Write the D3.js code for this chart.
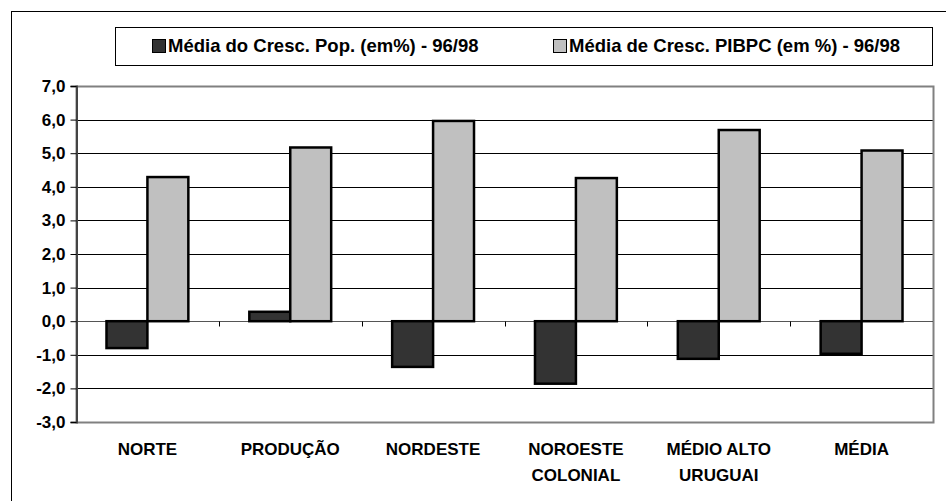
<!DOCTYPE html>
<html>
<head>
<meta charset="utf-8">
<script src="https://cdn.jsdelivr.net/npm/d3@7"></script>
<style>
  body { margin: 0; background: #fff; }
  svg { display: block; font-family: "Liberation Sans", Arial, sans-serif; font-weight: bold; }
</style>
</head>
<body>
<div id="chart"></div>
<script>
// data
const categories = [["NORTE"], ["PRODUÇÃO"], ["NORDESTE"], ["NOROESTE", "COLONIAL"], ["MÉDIO ALTO", "URUGUAI"], ["MÉDIA"]];
const seriesNames = ["Média do Cresc. Pop. (em%) - 96/98", "Média de Cresc. PIBPC (em %) - 96/98"];
const popValues = [-0.8, 0.28, -1.36, -1.86, -1.12, -0.97];
const pibValues = [4.29, 5.17, 5.96, 4.26, 5.69, 5.08];
const yTicks = [-3, -2, -1, 0, 1, 2, 3, 4, 5, 6, 7];
const colors = ["#333333", "#c0c0c0"];

const W = 946, H = 501;
const plot = {left: 76, right: 933, top: 86, bottom: 422};

const svg = d3.select("#chart").append("svg")
    .attr("width", W)
    .attr("height", H);

// outer frame (runs off the right/bottom edge)
svg.append("rect")
    .attr("x", 11.5).attr("y", 11.5)
    .attr("width", 960).attr("height", 520)
    .attr("fill", "none").attr("stroke", "#000").attr("stroke-width", 1);

// scales
const keys = categories.map(d => d.join(" "));
const x0 = d3.scaleBand().domain(keys).range([plot.left, plot.right]).padding(0);
const x1 = d3.scaleBand().domain([0, 1]).range([0, x0.bandwidth()]).paddingInner(0).paddingOuter(0.745);
const y = d3.scaleLinear().domain([-3, 7]).range([plot.bottom, plot.top]);

// gridlines
svg.append("g")
    .selectAll("line")
    .data(yTicks.filter(d => d !== 0 && d !== -3 && d !== 7))
    .join("line")
    .attr("x1", plot.left).attr("x2", plot.right)
    .attr("y1", d => Math.round(y(d)) + 0.5).attr("y2", d => Math.round(y(d)) + 0.5)
    .attr("stroke", "#000").attr("stroke-width", 1);

// plot frame
svg.append("rect")
    .attr("x", plot.left + 0.5).attr("y", Math.round(y(7)) + 0.5)
    .attr("width", plot.right - plot.left)
    .attr("height", Math.round(y(-3)) - Math.round(y(7)))
    .attr("fill", "none").attr("stroke", "#808080").attr("stroke-width", 2);

// zero line with category ticks
const zeroY = Math.round(y(0)) + 0.5;
svg.append("line")
    .attr("x1", plot.left).attr("x2", plot.right)
    .attr("y1", zeroY).attr("y2", zeroY)
    .attr("stroke", "#555").attr("stroke-width", 1);
svg.append("g")
    .selectAll("line")
    .data(keys.slice(1))
    .join("line")
    .attr("x1", d => Math.round(x0(d)) + 0.5).attr("x2", d => Math.round(x0(d)) + 0.5)
    .attr("y1", zeroY).attr("y2", zeroY + 5)
    .attr("stroke", "#000");

// y axis
const yAxis = d3.axisLeft(y)
    .tickValues(yTicks)
    .tickSize(6)
    .tickPadding(5)
    .tickFormat(d => d3.format(".1f")(d).replace(".", ",").replace("−", "-"));
const gy = svg.append("g")
    .attr("transform", `translate(${plot.left + 0.5},0)`)
    .call(yAxis);
gy.select(".domain").attr("stroke", "#444").attr("stroke-width", 2);
gy.selectAll(".tick line").attr("stroke", "#000");
gy.selectAll(".tick text")
    .attr("font-size", 17).attr("font-weight", "bold")
    .attr("font-family", "Liberation Sans, Arial, sans-serif")
    .attr("fill", "#000");

// bars
const rows = keys.map((k, i) => ({key: k, vals: [popValues[i], pibValues[i]]}));
const groups = svg.append("g").selectAll("g")
    .data(rows)
    .join("g")
    .attr("transform", d => `translate(${x0(d.key)},0)`);
groups.selectAll("rect")
    .data(d => d.vals.map((v, j) => ({v, j})))
    .join("rect")
    .attr("x", d => x1(d.j))
    .attr("y", d => y(Math.max(0, d.v)))
    .attr("width", x1.bandwidth())
    .attr("height", d => Math.abs(y(d.v) - y(0)))
    .attr("fill", d => colors[d.j])
    .attr("stroke", "#000")
    .attr("stroke-width", 2.5);

// category labels
svg.append("g").selectAll("text")
    .data(categories)
    .join("text")
    .attr("x", (d, i) => x0(keys[i]) + x0.bandwidth() / 2)
    .attr("y", 455)
    .attr("text-anchor", "middle")
    .attr("font-size", 17)
    .selectAll("tspan")
    .data(d => d)
    .join("tspan")
    .attr("x", function () { return d3.select(this.parentNode).attr("x"); })
    .attr("dy", (d, i) => i === 0 ? 0 : 26)
    .text(d => d);

// legend
const legend = svg.append("g");
legend.append("rect")
    .attr("x", 115.5).attr("y", 27.5)
    .attr("width", 817).attr("height", 38)
    .attr("fill", "#fff").attr("stroke", "#000").attr("stroke-width", 1);
const legX = [152, 553];
const items = legend.selectAll("g.item")
    .data(seriesNames)
    .join("g")
    .attr("class", "item")
    .attr("transform", (d, i) => `translate(${legX[i]},39)`);
items.append("rect")
    .attr("x", 0.5).attr("y", 0.5)
    .attr("width", 13).attr("height", 13)
    .attr("fill", (d, i) => colors[i])
    .attr("stroke", "#000").attr("stroke-width", 1);
items.append("text")
    .attr("x", 16).attr("y", 13)
    .attr("font-size", 18.5)
    .text(d => d);
</script>
</body>
</html>
